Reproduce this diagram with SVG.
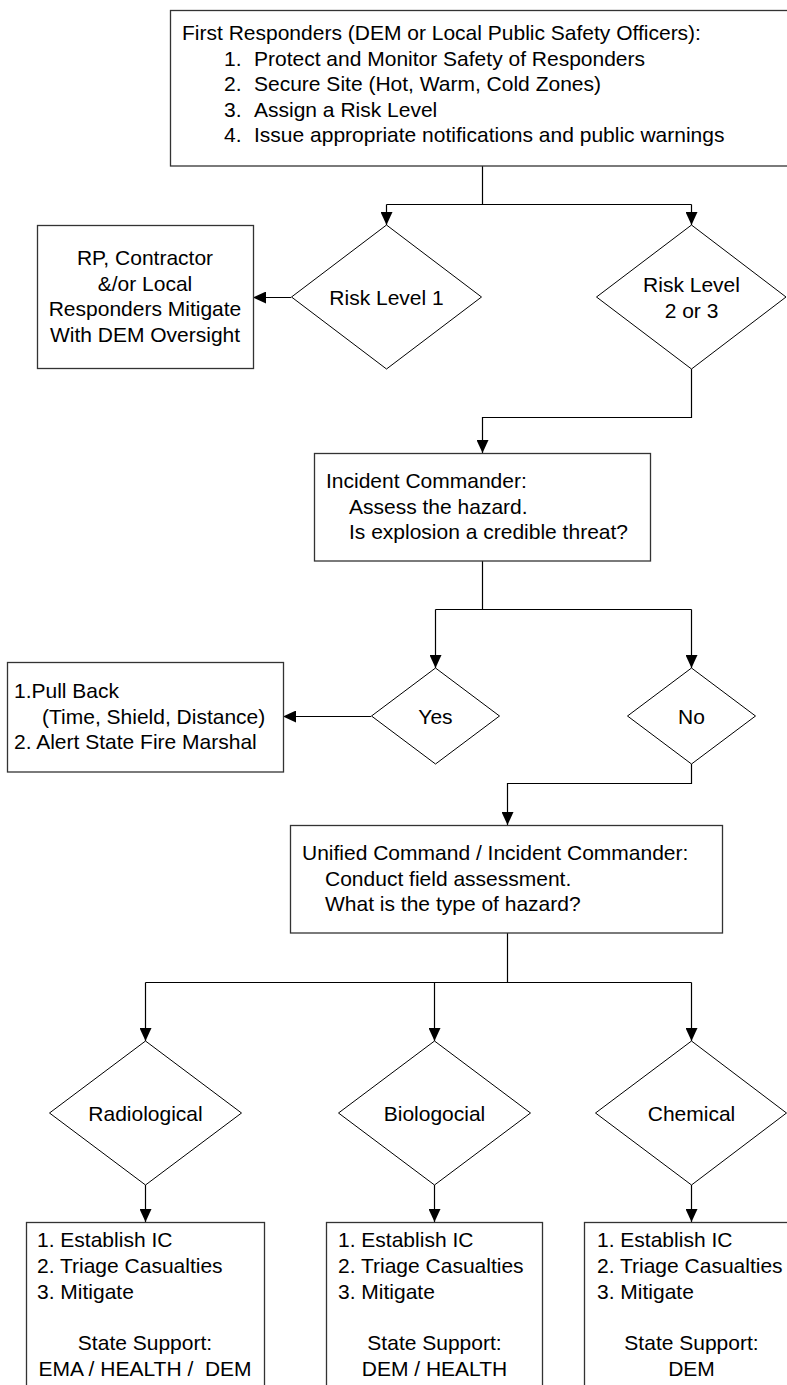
<svg xmlns="http://www.w3.org/2000/svg" width="787" height="1385" viewBox="0 0 787 1385">
<style>
  .box { fill: #fff; stroke: #333; stroke-width: 1.3; }
  .dia { fill: #fff; stroke: #000; stroke-width: 1; }
  .t { font-family: "Liberation Sans", Arial, sans-serif; font-size: 21px; fill: #000; }
  .c { text-anchor: middle; }
  .conn { fill: none; stroke: #000; stroke-width: 1.2; }
</style>
<defs>
  <marker id="arr" markerUnits="userSpaceOnUse" markerWidth="14" markerHeight="12" refX="13" refY="6" orient="auto">
    <path d="M0,0 L13,6 L0,12 Z" fill="#000"/>
  </marker>
</defs>
<rect width="787" height="1385" fill="#fff"/>

<g id="connectors">
  <path class="conn" d="M482.5,166 V204.5 M386.5,204.5 H691.5"/>
  <path class="conn" d="M386.5,204.5 V225" marker-end="url(#arr)"/>
  <path class="conn" d="M691.5,204.5 V225" marker-end="url(#arr)"/>
  <path class="conn" d="M291,297.5 H253" marker-end="url(#arr)"/>
  <path class="conn" d="M691.5,369 V417.5 H482.5 V453" marker-end="url(#arr)"/>
  <path class="conn" d="M482.5,561 V609.5 M435.5,609.5 H691.5"/>
  <path class="conn" d="M435.5,609.5 V668" marker-end="url(#arr)"/>
  <path class="conn" d="M691.5,609.5 V668" marker-end="url(#arr)"/>
  <path class="conn" d="M371,716.5 H283" marker-end="url(#arr)"/>
  <path class="conn" d="M691.5,764 V783.5 H507.5 V825" marker-end="url(#arr)"/>
  <path class="conn" d="M507.5,933 V982.5 M145.5,982.5 H691.5"/>
  <path class="conn" d="M145.5,982.5 V1041" marker-end="url(#arr)"/>
  <path class="conn" d="M434.5,982.5 V1041" marker-end="url(#arr)"/>
  <path class="conn" d="M691.5,982.5 V1041" marker-end="url(#arr)"/>
  <path class="conn" d="M145.5,1185 V1222" marker-end="url(#arr)"/>
  <path class="conn" d="M434.5,1185 V1222" marker-end="url(#arr)"/>
  <path class="conn" d="M691.5,1185 V1222" marker-end="url(#arr)"/>
</g>

<g id="first-responders">
  <rect class="box" x="170.5" y="10.5" width="630" height="155.5"/>
  <text class="t" x="182" y="40">First Responders (DEM or Local Public Safety Officers):</text>
  <text class="t" x="224" y="65.5">1.</text><text class="t" x="254" y="65.5">Protect and Monitor Safety of Responders</text>
  <text class="t" x="224" y="91">2.</text><text class="t" x="254" y="91">Secure Site (Hot, Warm, Cold Zones)</text>
  <text class="t" x="224" y="116.5">3.</text><text class="t" x="254" y="116.5">Assign a Risk Level</text>
  <text class="t" x="224" y="142">4.</text><text class="t" x="254" y="142">Issue appropriate notifications and public warnings</text>
</g>

<g id="rp-box">
  <rect class="box" x="37.5" y="225.5" width="216" height="143"/>
  <text class="t c" x="145" y="265">RP, Contractor</text>
  <text class="t c" x="145" y="291">&amp;/or Local</text>
  <text class="t c" x="145" y="316">Responders Mitigate</text>
  <text class="t c" x="145" y="342">With DEM Oversight</text>
</g>

<g id="risk-level-1">
  <polygon class="dia" points="386.5,225 481.5,297 386.5,369 291.5,297"/>
  <text class="t c" x="386.5" y="304.5">Risk Level 1</text>
</g>

<g id="risk-level-2-3">
  <polygon class="dia" points="691.5,225 786,297 691.5,369 596.5,297"/>
  <text class="t c" x="691.5" y="292">Risk Level</text>
  <text class="t c" x="691.5" y="317.5">2 or 3</text>
</g>

<g id="incident-commander">
  <rect class="box" x="314.5" y="453.5" width="336" height="107.5"/>
  <text class="t" x="326" y="488">Incident Commander:</text>
  <text class="t" x="349" y="514">Assess the hazard.</text>
  <text class="t" x="349" y="539">Is explosion a credible threat?</text>
</g>

<g id="pull-back">
  <rect class="box" x="7.5" y="662.5" width="276" height="109.5"/>
  <text class="t" x="14" y="698">1.Pull Back</text>
  <text class="t" x="42" y="724">(Time, Shield, Distance)</text>
  <text class="t" x="14" y="749">2. Alert State Fire Marshal</text>
</g>

<g id="yes">
  <polygon class="dia" points="435.5,668 499.5,716 435.5,764 371.5,716"/>
  <text class="t c" x="435.5" y="723.5">Yes</text>
</g>

<g id="no">
  <polygon class="dia" points="691.5,668 755.5,716 691.5,764 627.5,716"/>
  <text class="t c" x="691.5" y="723.5">No</text>
</g>

<g id="unified-command">
  <rect class="box" x="290.5" y="825.5" width="432" height="107.5"/>
  <text class="t" x="302" y="860">Unified Command / Incident Commander:</text>
  <text class="t" x="325" y="886">Conduct field assessment.</text>
  <text class="t" x="325" y="911">What is the type of hazard?</text>
</g>

<g id="radiological">
  <polygon class="dia" points="145.5,1041 241.5,1113 145.5,1185 49.5,1113"/>
  <text class="t c" x="145.5" y="1120.5">Radiological</text>
</g>

<g id="biologocial">
  <polygon class="dia" points="434.5,1041 530.5,1113 434.5,1185 338.5,1113"/>
  <text class="t c" x="434.5" y="1120.5">Biologocial</text>
</g>

<g id="chemical">
  <polygon class="dia" points="691.5,1041 786.5,1113 691.5,1185 595.5,1113"/>
  <text class="t c" x="691.5" y="1120.5">Chemical</text>
</g>

<g id="radiological-actions">
  <rect class="box" x="26.5" y="1222.5" width="238" height="180"/>
  <text class="t" x="37" y="1247">1. Establish IC</text>
  <text class="t" x="37" y="1273">2. Triage Casualties</text>
  <text class="t" x="37" y="1299">3. Mitigate</text>
  <text class="t c" x="145" y="1350">State Support:</text>
  <text class="t c" x="145" y="1376" xml:space="preserve">EMA / HEALTH /  DEM</text>
</g>

<g id="biologocial-actions">
  <rect class="box" x="326.5" y="1222.5" width="216" height="180"/>
  <text class="t" x="338" y="1247">1. Establish IC</text>
  <text class="t" x="338" y="1273">2. Triage Casualties</text>
  <text class="t" x="338" y="1299">3. Mitigate</text>
  <text class="t c" x="434.5" y="1350">State Support:</text>
  <text class="t c" x="434.5" y="1376">DEM / HEALTH</text>
</g>

<g id="chemical-actions">
  <rect class="box" x="584.5" y="1222.5" width="230" height="180"/>
  <text class="t" x="597" y="1247">1. Establish IC</text>
  <text class="t" x="597" y="1273">2. Triage Casualties</text>
  <text class="t" x="597" y="1299">3. Mitigate</text>
  <text class="t c" x="691.5" y="1350">State Support:</text>
  <text class="t c" x="691.5" y="1376">DEM</text>
</g>
</svg>
